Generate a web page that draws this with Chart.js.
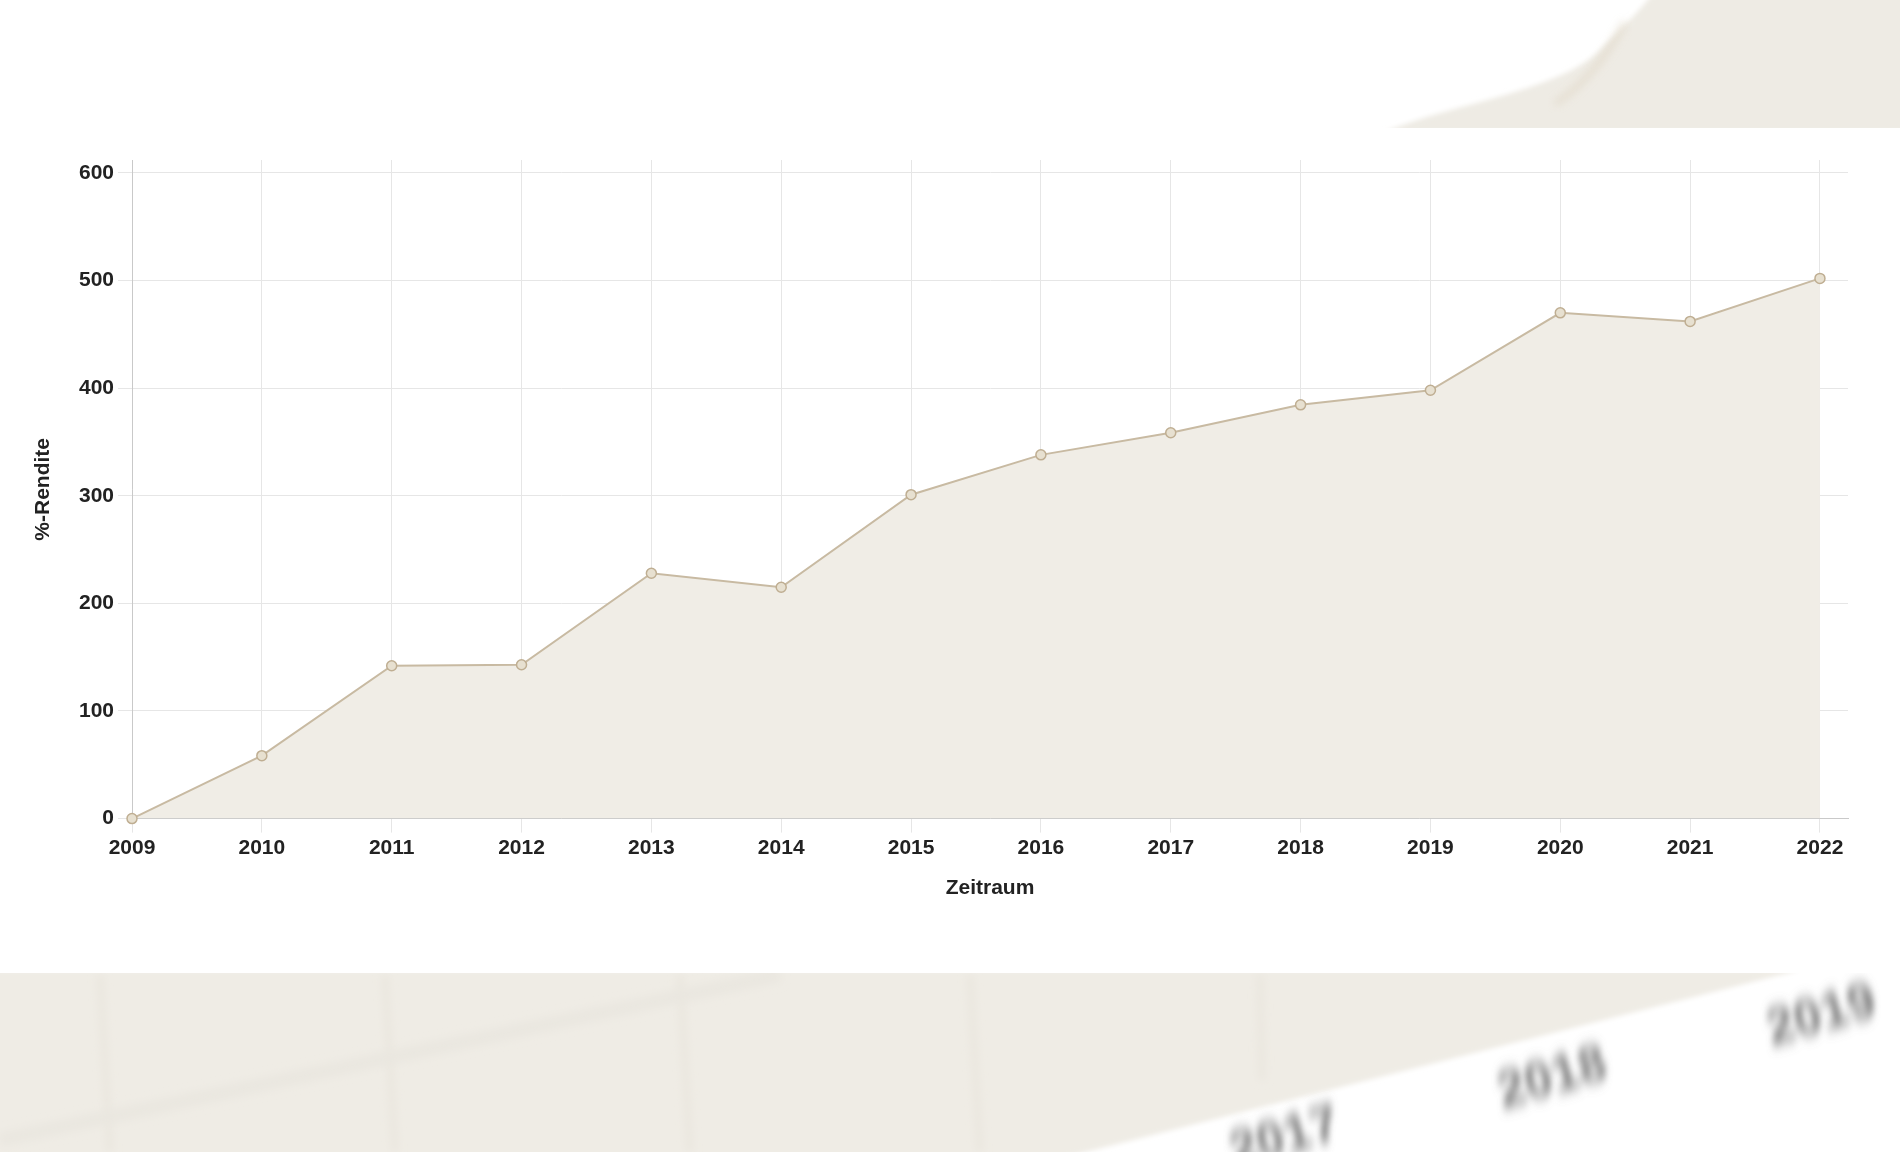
<!DOCTYPE html>
<html>
<head>
<meta charset="utf-8">
<script src="https://cdn.jsdelivr.net/npm/chart.js@4"></script>
<style>
  body { margin: 0; width: 1900px; height: 1152px; overflow: hidden; position: relative; background: #fff; font-family: 'Liberation Sans', Arial, sans-serif; }
  #bg { position: absolute; left: 0; top: 0; }
  #panel { position: absolute; left: 0; top: 128px; width: 1900px; height: 845px; background: #fff; }
</style>
</head>
<body>
<svg id="bg" width="1900" height="1152">
  <defs>
    <filter id="soft"><feGaussianBlur stdDeviation="2.5"/></filter>
    <filter id="softer"><feGaussianBlur stdDeviation="4"/></filter>
    <filter id="smear"><feGaussianBlur stdDeviation="3 7"/></filter>
  </defs>
  <path d="M1385,132 C1450,104 1555,92 1598,52 C1620,30 1640,10 1652,-5 L1905,-5 L1905,132 Z" fill="#eeebe4" filter="url(#soft)"/>
  <path d="M1555,104 C1585,84 1605,58 1625,22" stroke="#ddd2c0" stroke-width="5" fill="none" opacity="0.7" filter="url(#softer)"/>
  <line x1="1612" y1="0" x2="1612" y2="128" stroke="#e6e2d9" stroke-width="4" filter="url(#soft)"/>
  <line x1="1882" y1="0" x2="1882" y2="128" stroke="#e6e2d9" stroke-width="4" filter="url(#soft)"/>
  <path d="M-5,970 L1800,970 L1055,1160 L-5,1160 Z" fill="#efece5" filter="url(#soft)"/>
  <g stroke="#e8e4dc" stroke-width="5" filter="url(#softer)">
    <line x1="100" y1="975" x2="110" y2="1152"/>
    <line x1="385" y1="975" x2="395" y2="1152"/>
    <line x1="680" y1="975" x2="690" y2="1152"/>
    <line x1="970" y1="975" x2="980" y2="1152"/>
    <line x1="1260" y1="975" x2="1262" y2="1080"/>
  </g>
  <path d="M0,1140 L780,975" stroke="#eae7e0" stroke-width="14" filter="url(#softer)"/>
  <g font-family="Liberation Sans, Arial" font-weight="bold" font-size="50" fill="#777" filter="url(#smear)">
    <text x="1772" y="1045" transform="rotate(-16 1772 1045)">2019</text>
    <text x="1503" y="1108" transform="rotate(-16 1503 1108)">2018</text>
    <text x="1235" y="1168" transform="rotate(-16 1235 1168)">2017</text>
  </g>
</svg>
<div id="panel"><canvas id="renditeChart"></canvas></div>
<script>
const years = [2009, 2010, 2011, 2012, 2013, 2014, 2015, 2016, 2017, 2018, 2019, 2020, 2021, 2022];
const rendite = [0, 58.5, 142, 143, 228, 215, 301, 338, 358.5, 384.5, 398, 470, 462, 502];
const yTicks = [0, 100, 200, 300, 400, 500, 600];

const labelFont = { family: "'Liberation Sans', Arial, sans-serif", size: 21, weight: 'bold' };

const ctx = document.getElementById('renditeChart').getContext('2d');
new Chart(ctx, {
  type: 'line',
  data: {
    datasets: [{
      label: '%-Rendite',
      data: years.map((y, i) => ({ x: y, y: rendite[i] })),
      borderColor: '#c8baa2',
      borderWidth: 2,
      backgroundColor: '#f0ede6',
      fill: 'origin',
      tension: 0,
      clip: false,
      pointRadius: 5,
      pointBorderWidth: 1.5,
      pointBorderColor: '#bfae92',
      pointBackgroundColor: '#e7e0d0'
    }]
  },
  options: {
    responsive: true,
    maintainAspectRatio: false,
    animation: false,
    layout: { padding: { left: 27, right: 52, top: 32, bottom: 68 } },
    plugins: { legend: { display: false }, tooltip: { enabled: false } },
    scales: {
      x: {
        type: 'linear',
        min: 2009,
        max: 2022.216,
        afterBuildTicks: scale => { scale.ticks = years.map(v => ({ value: v })); },
        grid: { color: '#e6e6e6', tickLength: 14 },
        border: { color: '#c9c9c9' },
        ticks: { font: labelFont, color: '#222', padding: 3, maxRotation: 0, autoSkip: false, callback: v => String(v) },
        title: { display: true, text: 'Zeitraum', font: labelFont, color: '#222', padding: { top: 12, bottom: 4 } }
      },
      y: {
        min: 0,
        max: 612,
        afterBuildTicks: scale => { scale.ticks = yTicks.map(v => ({ value: v })); },
        afterFit: scale => { scale.width = 105; },
        grid: { color: '#e6e6e6', tickLength: 14 },
        border: { color: '#c9c9c9' },
        ticks: { font: labelFont, color: '#222', padding: 4 },
        title: { display: true, text: '%-Rendite', font: labelFont, color: '#222' }
      }
    }
  }
});
</script>
</body>
</html>
